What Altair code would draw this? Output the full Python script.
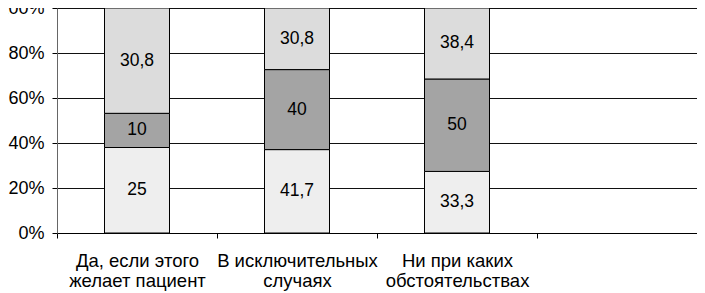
import altair as alt
import pandas as pd

categories = ["Да, если этого\nжелает пациент", "В исключительных\nслучаях", "Ни при каких\nобстоятельствах"]
axis_domain = categories + [" "]
series = ["s1", "s2", "s3"]
s1_values = [25, 41.7, 33.3]
s2_values = [10, 40, 50]
s3_values = [30.8, 30.8, 38.4]
y_ticks = [0, 0.2, 0.4, 0.6, 0.8, 1.0]
colors = ["#eeeeee", "#a4a4a4", "#dcdcdc"]

rows = []
for i, c in enumerate(categories):
    for j, (s, vals) in enumerate(zip(series, [s1_values, s2_values, s3_values])):
        v = vals[i]
        rows.append({"cat": c, "series": s, "order": j, "value": v,
                     "label": f"{v:g}".replace(".", ",")})
df = pd.DataFrame(rows)

font = "Liberation Sans"

base = alt.Chart(df).transform_stack(
    stack="value", groupby=["cat"], as_=["v0", "v1"], offset="normalize",
    sort=[alt.SortField("order", "ascending")]
).transform_calculate(mid="(datum.v0 + datum.v1) / 2")

xscale = alt.Scale(domain=axis_domain, paddingInner=0, paddingOuter=0)
yscale = alt.Scale(domain=[0, 1], nice=False)

x_axis = alt.Axis(title=None, labelAngle=0, labelExpr="split(datum.label, '\\n')",
                  labelFont=font, labelFontSize=18.5, labelColor="#000",
                  labelLineHeight=20.5, labelPadding=13, tickBand="extent",
                  tickSize=5, tickColor="#000", domainColor="#000",
                  labelBaseline="top")
y_axis = alt.Axis(title=None, format=".0%", values=y_ticks, grid=True,
                  gridColor="#111", gridOpacity=1, labelFont=font, labelFontSize=18,
                  labelColor="#000", tickSize=5, tickColor="#000", domainColor="#666",
                  labelPadding=8)

bars = base.mark_bar(stroke="#000", strokeWidth=1, width=65).encode(
    x=alt.X("cat:N", scale=xscale, axis=x_axis),
    y=alt.Y("v0:Q", scale=yscale, axis=y_axis),
    y2="v1:Q",
    color=alt.Color("series:N", scale=alt.Scale(domain=series, range=colors), legend=None),
)

labels = base.mark_text(font=font, fontSize=17.5, color="#000").encode(
    x=alt.X("cat:N", scale=xscale, axis=x_axis),
    y=alt.Y("mid:Q", scale=yscale, axis=y_axis),
    text="label:N",
)

chart = alt.layer(bars, labels).properties(
    width=640, height=225,
    autosize=alt.AutoSizeParams(type="none"),
    padding={"left": 49, "top": 0, "right": 0, "bottom": 62},
).configure_view(stroke="#000", strokeWidth=1).configure_axis(
    labelFont=font, labelColor="#000"
).configure_axisY(labelFontSize=18).configure_axisX(labelFontSize=18.5)

chart.save("out.html", embed_options={"renderer": "svg", "actions": False})
